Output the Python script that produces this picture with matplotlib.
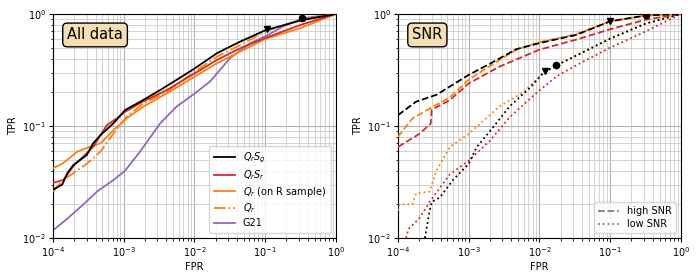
import matplotlib
matplotlib.use("Agg")
import matplotlib.pyplot as plt
from matplotlib.lines import Line2D

# ---- Left panel: all data ----
fpr_qrsg = [1e-4, 1.35e-4, 1.6e-4, 1.95e-4, 2.45e-4, 3.0e-4, 3.7e-4, 4.7e-4, 7.2e-4, 1.05e-3, 1.9e-3, 3.3e-3, 5.6e-3, 1.02e-2, 2.1e-2, 4.5e-2, 0.1, 0.32, 1.0]
tpr_qrsg = [0.027, 0.030, 0.038, 0.045, 0.050, 0.055, 0.070, 0.083, 0.106, 0.139, 0.171, 0.21, 0.258, 0.328, 0.448, 0.569, 0.714, 0.877, 1.0]

fpr_qrsr = [1e-4, 1.4e-4, 1.95e-4, 3.7e-4, 5.8e-4, 8.0e-4, 1.05e-3, 1.9e-3, 4.1e-3, 1.02e-2, 2.1e-2, 4.5e-2, 0.1, 0.32, 1.0]
tpr_qrsr = [0.031, 0.033, 0.044, 0.065, 0.102, 0.117, 0.134, 0.166, 0.21, 0.296, 0.39, 0.497, 0.61, 0.80, 1.0]

fpr_qr_r = [1e-4, 1.35e-4, 1.6e-4, 2.2e-4, 3.3e-4, 4.7e-4, 7.2e-4, 1.1e-3, 1.9e-3, 4.1e-3, 1.02e-2, 2.1e-2, 4.5e-2, 0.1, 0.32, 1.0]
tpr_qr_r = [0.042, 0.046, 0.050, 0.059, 0.065, 0.070, 0.092, 0.117, 0.149, 0.196, 0.277, 0.364, 0.463, 0.597, 0.75, 1.0]

fpr_qr = [1e-4, 1.4e-4, 1.95e-4, 3.0e-4, 4.7e-4, 7.2e-4, 1.1e-3, 1.9e-3, 4.1e-3, 1.02e-2, 2.1e-2, 4.5e-2, 0.1, 0.32, 1.0]
tpr_qr = [0.026, 0.033, 0.038, 0.046, 0.059, 0.086, 0.121, 0.159, 0.203, 0.307, 0.418, 0.531, 0.70, 0.89, 1.0]

fpr_g21 = [1e-4, 1.6e-4, 2.7e-4, 4.2e-4, 7.2e-4, 1.05e-3, 1.7e-3, 3.3e-3, 5.6e-3, 1.02e-2, 1.66e-2, 3.2e-2, 6.2e-2, 0.1, 0.18, 0.35, 1.0]
tpr_g21 = [0.0117, 0.0149, 0.020, 0.026, 0.033, 0.040, 0.059, 0.106, 0.149, 0.196, 0.249, 0.404, 0.55, 0.63, 0.775, 0.92, 1.0]

marker_tri_all = (0.106, 0.73)
marker_circ_all = (0.33, 0.92)

# ---- Right panel: SNR split (high = dashed, low = dotted) ----
fpr_hi_qrsg = [1e-4, 1.8e-4, 3.5e-4, 1.0e-3, 2.0e-3, 4.7e-3, 1.0e-2, 3.3e-2, 0.1, 0.32, 1.0]
tpr_hi_qrsg = [0.125, 0.165, 0.19, 0.286, 0.36, 0.485, 0.55, 0.65, 0.86, 0.97, 1.0]

fpr_hi_qr = [1e-4, 1.6e-4, 3.2e-4, 5.4e-4, 1.0e-3, 2.75e-3, 4.7e-3, 1.0e-2, 3.3e-2, 0.1, 0.32, 1.0]
tpr_hi_qr = [0.08, 0.117, 0.15, 0.18, 0.26, 0.39, 0.48, 0.56, 0.66, 0.86, 0.97, 1.0]

fpr_hi_qrsr = [1e-4, 2.0e-4, 2.9e-4, 3.0e-4, 5.4e-4, 1.0e-3, 2.75e-3, 1.0e-2, 3.3e-2, 0.1, 0.32, 1.0]
tpr_hi_qrsr = [0.065, 0.085, 0.105, 0.14, 0.17, 0.24, 0.34, 0.48, 0.59, 0.73, 0.89, 1.0]

fpr_lo_qr = [1e-4, 1.05e-4, 1.6e-4, 1.8e-4, 2.8e-4, 3.5e-4, 5.4e-4, 1.0e-3, 2.75e-3, 5.9e-3, 1.15e-2, 1.78e-2, 0.1, 0.32, 1.0]
tpr_lo_qr = [0.0176, 0.020, 0.020, 0.025, 0.026, 0.040, 0.065, 0.085, 0.15, 0.20, 0.30, 0.35, 0.61, 0.83, 1.0]

fpr_lo_qrsg = [2.4e-4, 2.8e-4, 3.0e-4, 3.9e-4, 6.0e-4, 1.0e-3, 1.3e-3, 2.0e-3, 3.8e-3, 7.4e-3, 1.15e-2, 1.78e-2, 0.1, 0.32, 1.0]
tpr_lo_qrsg = [0.010, 0.0175, 0.021, 0.023, 0.033, 0.046, 0.065, 0.09, 0.15, 0.22, 0.30, 0.35, 0.60, 0.82, 1.0]

fpr_lo_qrsr = [1.3e-4, 1.4e-4, 2.0e-4, 2.8e-4, 5.4e-4, 1.0e-3, 2.0e-3, 3.8e-3, 8.9e-3, 1.78e-2, 4.3e-2, 0.1, 0.32, 1.0]
tpr_lo_qrsr = [0.010, 0.012, 0.015, 0.021, 0.037, 0.049, 0.074, 0.12, 0.195, 0.28, 0.38, 0.50, 0.70, 1.0]

marker_tri_snr = [(0.012, 0.31), (0.10, 0.87)]
marker_circ_snr = [(0.0174, 0.35), (0.32, 0.97)]

BLACK = "black"
RED = "tab:red"
ORANGE = "tab:orange"
PURPLE = "tab:purple"

fig = plt.figure(figsize=(7, 2.8), dpi=100)
ax1 = fig.add_axes([0.0757, 0.15, 0.404, 0.8])
ax2 = fig.add_axes([0.5686, 0.15, 0.404, 0.8])

lw = 1.3
ax1.plot(fpr_qrsg, tpr_qrsg, color=BLACK, lw=lw, label=r"$Q_rS_g$", zorder=5)
ax1.plot(fpr_qrsr, tpr_qrsr, color=RED, lw=lw, label=r"$Q_rS_r$", zorder=4)
ax1.plot(fpr_qr_r, tpr_qr_r, color=ORANGE, lw=lw, label=r"$Q_r$ (on R sample)", zorder=3)
ax1.plot(fpr_qr, tpr_qr, color=ORANGE, lw=lw, ls="-.", label=r"$Q_r$", zorder=3)
ax1.plot(fpr_g21, tpr_g21, color=PURPLE, lw=lw, label="G21", zorder=2)
ax1.plot(*marker_tri_all, marker="v", color=BLACK, ms=4.5, zorder=6)
ax1.plot(*marker_circ_all, marker="o", color=BLACK, ms=4.5, zorder=6)

ax2.plot(fpr_hi_qrsg, tpr_hi_qrsg, color=BLACK, lw=lw, ls="--", zorder=5)
ax2.plot(fpr_hi_qr, tpr_hi_qr, color=ORANGE, lw=lw, ls="--", zorder=4)
ax2.plot(fpr_hi_qrsr, tpr_hi_qrsr, color=RED, lw=lw, ls="--", zorder=3)
ax2.plot(fpr_lo_qrsg, tpr_lo_qrsg, color=BLACK, lw=lw, ls=":", zorder=5)
ax2.plot(fpr_lo_qr, tpr_lo_qr, color=ORANGE, lw=lw, ls=":", zorder=4)
ax2.plot(fpr_lo_qrsr, tpr_lo_qrsr, color=RED, lw=lw, ls=":", zorder=3)
for (x, y) in marker_tri_snr:
    ax2.plot(x, y, marker="v", color=BLACK, ms=4.5, zorder=6)
for (x, y) in marker_circ_snr:
    ax2.plot(x, y, marker="o", color=BLACK, ms=4.5, zorder=6)

for ax, title in [(ax1, "All data"), (ax2, "SNR")]:
    ax.set_xscale("log")
    ax.set_yscale("log")
    ax.set_xlim(1e-4, 1)
    ax.set_ylim(1e-2, 1)
    ax.grid(True, which="major", color="#b0b0b0", lw=0.8)
    ax.grid(True, which="minor", color="#cccccc", lw=0.6)
    ax.set_axisbelow(True)
    ax.set_xlabel("FPR", fontsize=7, labelpad=2)
    ax.set_ylabel("TPR", fontsize=7, labelpad=3)
    ax.tick_params(which="major", labelsize=7, length=3, pad=2)
    ax.tick_params(which="minor", length=1.8)
    ax.text(0.05, 0.94, title, transform=ax.transAxes, fontsize=10.5, va="top", ha="left",
            bbox=dict(boxstyle="round,pad=0.3", facecolor="wheat", edgecolor="black", alpha=1.0), zorder=10)

ax1.legend(loc="lower right", fontsize=7, handlelength=2.2, borderpad=0.5, labelspacing=0.3)
handles = [Line2D([], [], color="gray", lw=lw, ls="--"),
           Line2D([], [], color="gray", lw=lw, ls=":")]
ax2.legend(handles, ["high SNR", "low SNR"], loc="lower right", fontsize=7, handlelength=2.2, labelspacing=0.3)

fig.savefig("out.png", dpi=100)
